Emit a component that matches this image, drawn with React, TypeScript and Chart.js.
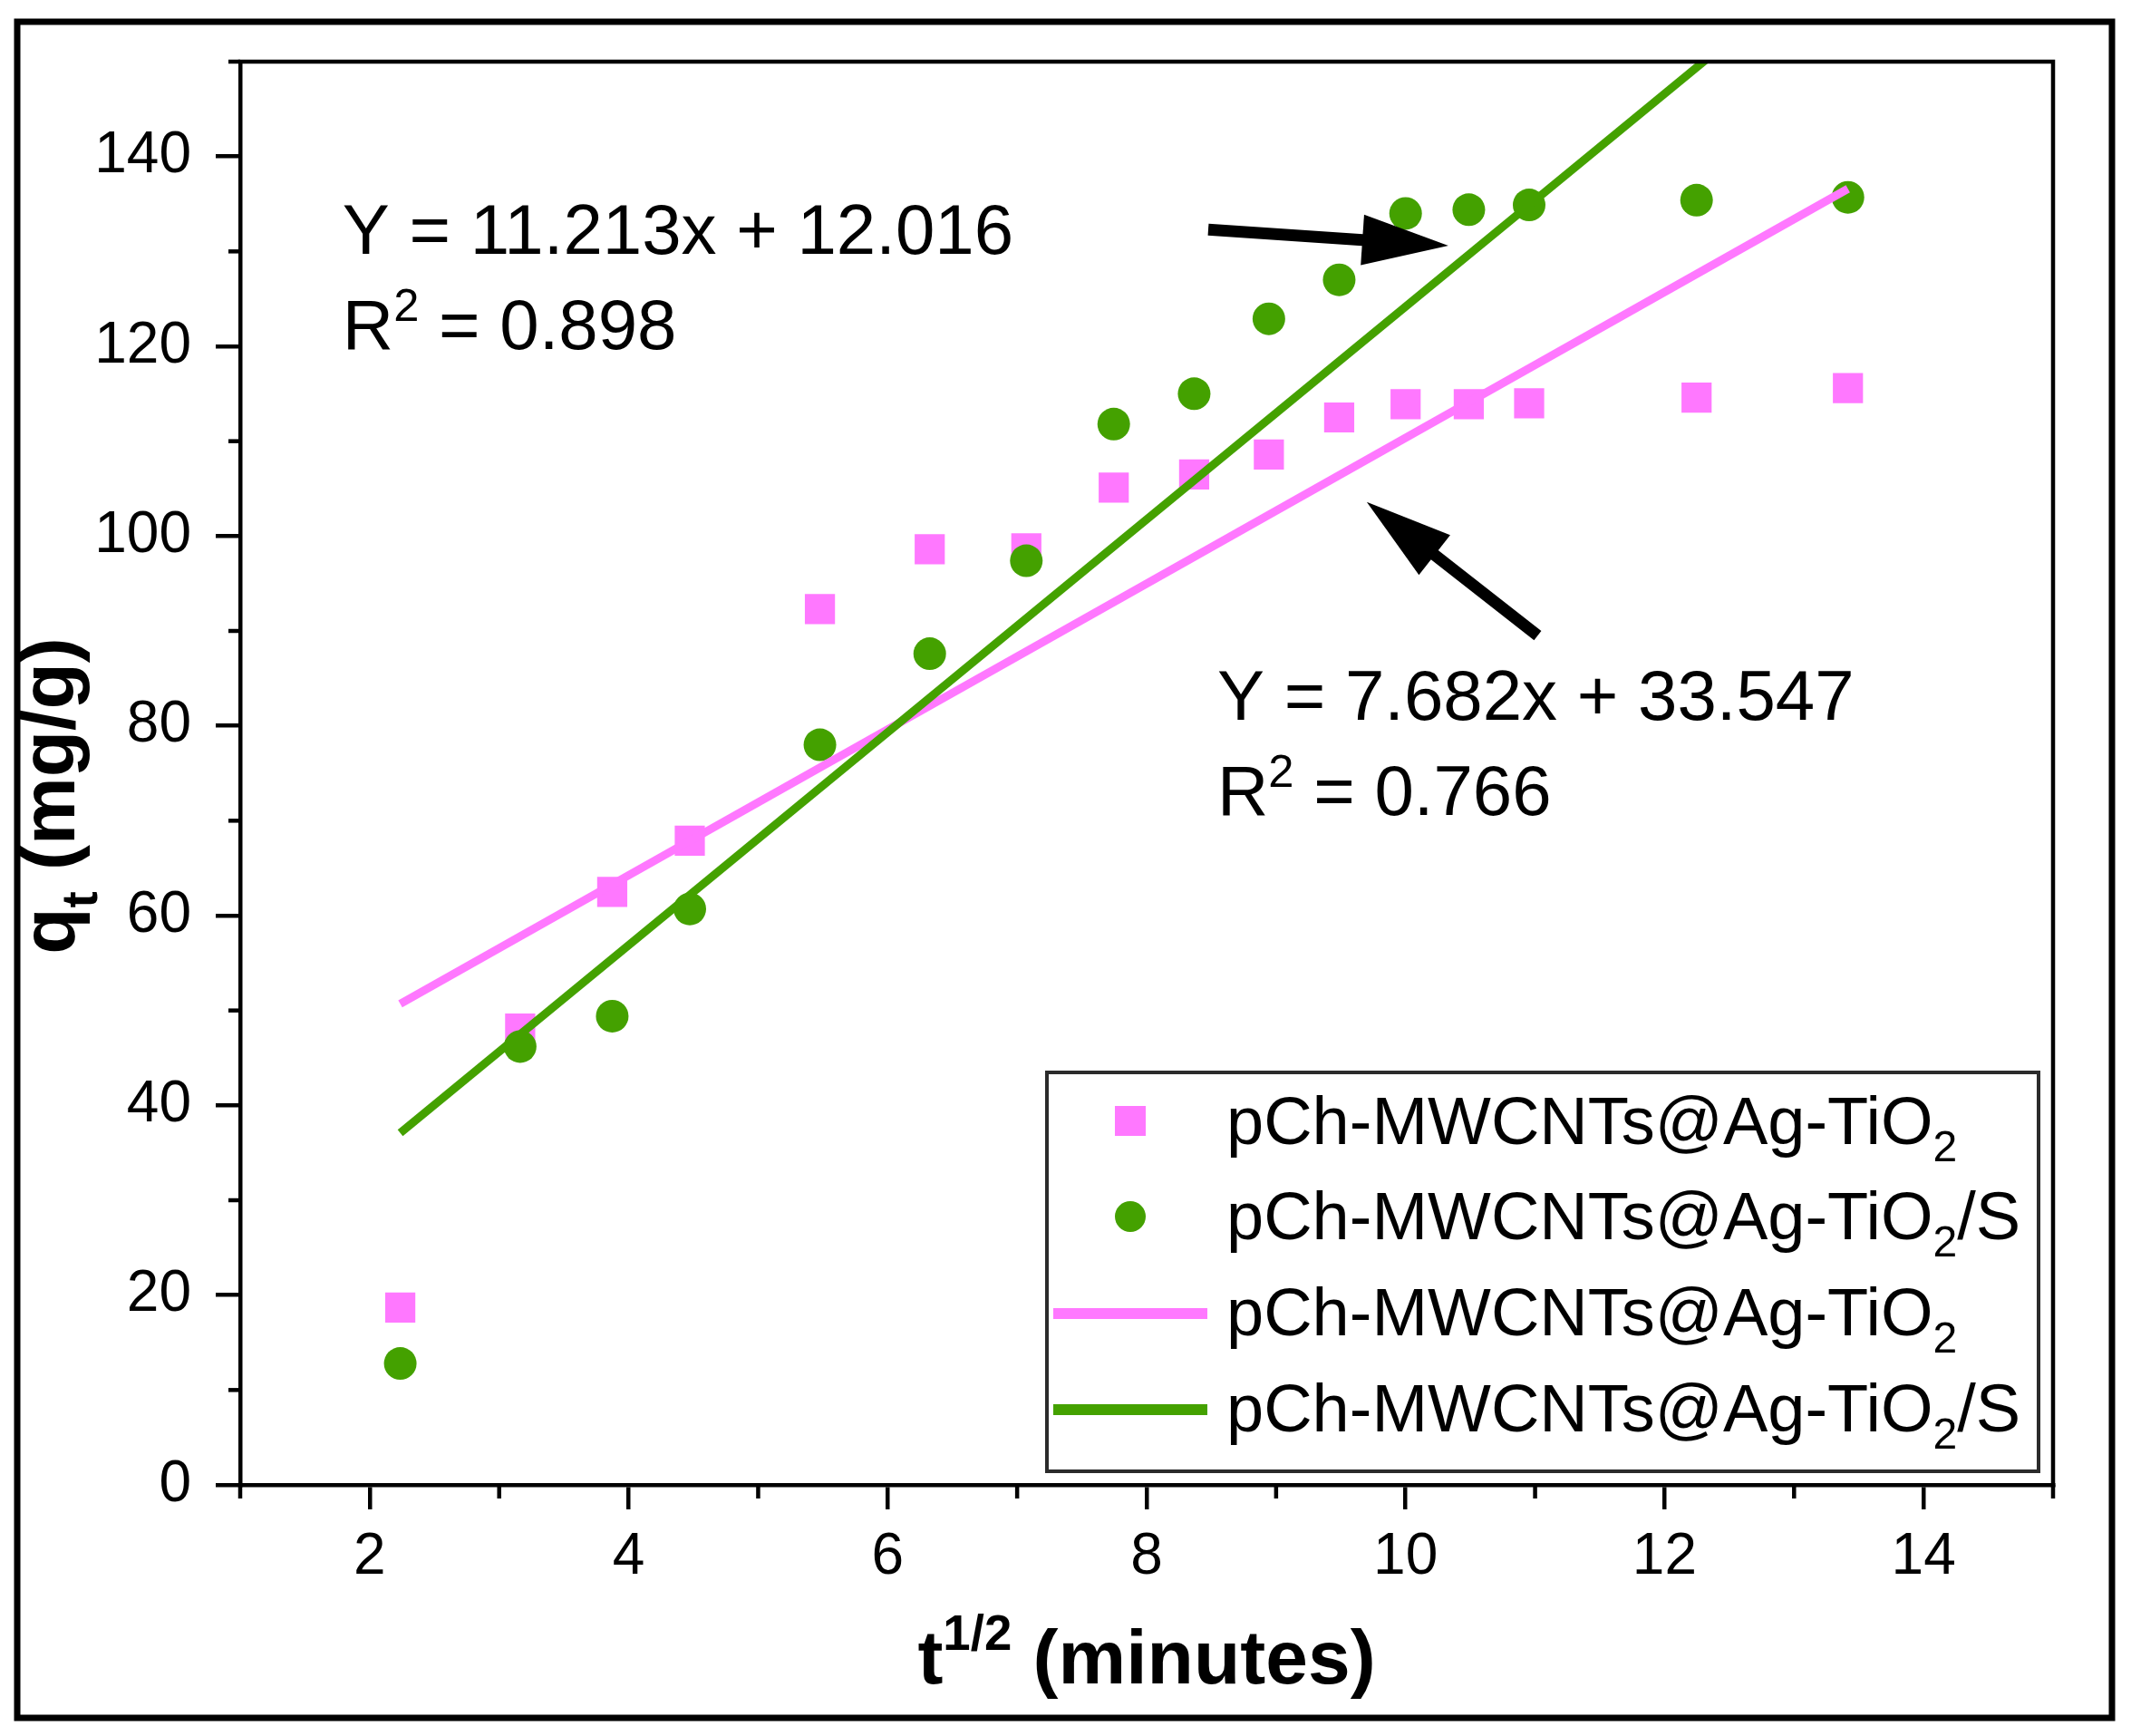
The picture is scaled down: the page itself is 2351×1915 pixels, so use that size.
import { useEffect, useRef } from "react";
import { Chart, registerables } from "chart.js";

Chart.register(...registerables);

// t^(1/2) positions of the measurements
const sqrtTime = [2.236, 3.162, 3.873, 4.472, 5.477, 6.325, 7.071, 7.746, 8.367, 8.944, 9.487, 10.0, 10.488, 10.954, 12.247, 13.416];
// q_t values (mg/g)
const qtAgTiO2 = [18.7, 48.1, 62.5, 67.9, 92.3, 98.6, 98.7, 105.1, 106.5, 108.6, 112.5, 113.9, 113.9, 114.0, 114.6, 115.6];
const qtAgTiO2S = [12.8, 46.2, 49.4, 60.7, 78.0, 87.6, 97.4, 111.8, 115.0, 122.9, 127.0, 134.0, 134.4, 134.9, 135.4, 135.7];

// fitted lines, end points
const fitX = [2.236, 13.416];
const fitAgTiO2 = [50.7, 136.6];
const fitAgTiO2S = [37.1, 162.5];

const xTicks = [2, 4, 6, 8, 10, 12, 14];
const yTicks = [0, 20, 40, 60, 80, 100, 120, 140];
const xMinorTicks = [1, 3, 5, 7, 9, 11, 13, 15];
const yMinorTicks = [10, 30, 50, 70, 90, 110, 130, 150];

const seriesLabels = ["pCh-MWCNTs@Ag-TiO_{2}", "pCh-MWCNTs@Ag-TiO_{2}/S"];
const xTitle = "t^{1/2} (minutes)";
const yTitle = "q_{t} (mg/g)";

// equation labels, anchored in data units (left edge, first baseline)
const equationLines = [
  ["Y = 11.213x + 12.016", "R^{2} = 0.898"],
  ["Y = 7.682x + 33.547", "R^{2} = 0.766"],
];
const equationAnchors = [
  [1.79, 129.7],
  [8.546, 80.6],
];
// arrows, from -> to in data units
const arrowFrom = [
  [8.476, 132.3],
  [11.02, 89.5],
];
const arrowTo = [
  [10.33, 130.6],
  [9.7, 103.6],
];

const W = 2351;
const H = 1915;
const FONT = '"Liberation Sans", Arial, Helvetica, sans-serif';
const PINK = "#ff78ff";
const GREEN = "#44a100";
const AXIS_W = 4.5;

type Seg = { text: string; shift: number };

const parseRich = (s: string): Seg[] => {
  const out: Seg[] = [];
  const re = /([_^])\{([^}]*)\}/g;
  let last = 0;
  let m: RegExpExecArray | null;
  while ((m = re.exec(s))) {
    if (m.index > last) out.push({ text: s.slice(last, m.index), shift: 0 });
    out.push({ text: m[2], shift: m[1] === "^" ? 1 : -1 });
    last = re.lastIndex;
  }
  if (last < s.length) out.push({ text: s.slice(last), shift: 0 });
  return out;
};

const drawRich = (
  ctx: CanvasRenderingContext2D,
  s: string,
  x: number,
  y: number,
  size: number,
  weight: string,
  align: "left" | "center",
  subDrop = 0.26,
  supRise = 0.42
) => {
  const segs = parseRich(s);
  const fontFor = (seg: Seg) => `${weight} ${seg.shift ? size * 0.65 : size}px ${FONT}`;
  let total = 0;
  segs.forEach((seg) => {
    ctx.font = fontFor(seg);
    total += ctx.measureText(seg.text).width;
  });
  let cx = align === "center" ? x - total / 2 : x;
  ctx.textAlign = "left";
  ctx.textBaseline = "alphabetic";
  segs.forEach((seg) => {
    ctx.font = fontFor(seg);
    const dy = seg.shift === 1 ? -size * supRise : seg.shift === -1 ? size * subDrop : 0;
    ctx.fillText(seg.text, cx, y + dy);
    cx += ctx.measureText(seg.text).width;
  });
};

const drawArrow = (ctx: CanvasRenderingContext2D, x1: number, y1: number, x2: number, y2: number) => {
  const ang = Math.atan2(y2 - y1, x2 - x1);
  const c = Math.cos(ang);
  const s = Math.sin(ang);
  const headLen = 95;
  const halfW = 28;
  const hx = x2 - c * headLen;
  const hy = y2 - s * headLen;
  ctx.lineWidth = 13;
  ctx.lineCap = "butt";
  ctx.beginPath();
  ctx.moveTo(x1, y1);
  ctx.lineTo(hx + c * 4, hy + s * 4);
  ctx.stroke();
  ctx.beginPath();
  ctx.moveTo(x2, y2);
  ctx.lineTo(hx + s * halfW, hy - c * halfW);
  ctx.lineTo(hx - s * halfW, hy + c * halfW);
  ctx.closePath();
  ctx.fill();
};

const decorPlugin = {
  id: "decor",
  beforeDraw(chart: any) {
    const { ctx } = chart;
    ctx.save();
    ctx.fillStyle = "#fff";
    ctx.fillRect(0, 0, chart.width, chart.height);
    ctx.restore();
  },
  afterDraw(chart: any) {
    const { ctx, chartArea: a, scales } = chart;
    const xs = scales.x;
    const ys = scales.y;
    ctx.save();
    ctx.strokeStyle = "#000";
    ctx.fillStyle = "#000";

    // top and right frame of the plot
    ctx.lineWidth = AXIS_W;
    ctx.lineCap = "square";
    ctx.beginPath();
    ctx.moveTo(a.left, a.top);
    ctx.lineTo(a.right, a.top);
    ctx.lineTo(a.right, a.bottom);
    ctx.stroke();

    // minor ticks
    ctx.lineCap = "butt";
    xMinorTicks.forEach((v) => {
      const px = xs.getPixelForValue(v);
      ctx.beginPath();
      ctx.moveTo(px, a.bottom);
      ctx.lineTo(px, a.bottom + 15);
      ctx.stroke();
    });
    yMinorTicks.forEach((v) => {
      const py = ys.getPixelForValue(v);
      ctx.beginPath();
      ctx.moveTo(a.left - 13, py);
      ctx.lineTo(a.left, py);
      ctx.stroke();
    });

    // equations
    equationLines.forEach((lines, i) => {
      const px = xs.getPixelForValue(equationAnchors[i][0]);
      const py = ys.getPixelForValue(equationAnchors[i][1]);
      lines.forEach((t, j) => drawRich(ctx, t, px, py + j * 105, 78, "normal", "left", 0.26, 0.4));
    });

    // arrows
    arrowFrom.forEach((f, i) => {
      drawArrow(
        ctx,
        xs.getPixelForValue(f[0]),
        ys.getPixelForValue(f[1]),
        xs.getPixelForValue(arrowTo[i][0]),
        ys.getPixelForValue(arrowTo[i][1])
      );
    });

    // legend
    const L = { left: a.right - 1110, top: a.bottom - 455, right: a.right - 16, bottom: a.bottom - 15 };
    ctx.fillStyle = "#fff";
    ctx.fillRect(L.left, L.top, L.right - L.left, L.bottom - L.top);
    ctx.strokeStyle = "#2b2b2b";
    ctx.lineWidth = 4;
    ctx.strokeRect(L.left, L.top, L.right - L.left, L.bottom - L.top);
    const rowBase = [79, 184, 290, 396];
    chart.data.datasets.forEach((ds: any, i: number) => {
      const base = L.top + rowBase[i];
      const cy = base - 26;
      const cx = L.left + 92;
      if (ds.showLine) {
        ctx.strokeStyle = ds.borderColor;
        ctx.lineWidth = 12;
        ctx.beginPath();
        ctx.moveTo(L.left + 7, base - 24);
        ctx.lineTo(L.left + 177, base - 24);
        ctx.stroke();
      } else if (ds.pointStyle === "rect") {
        ctx.fillStyle = ds.pointBackgroundColor;
        ctx.fillRect(cx - 17, cy - 16, 34, 33);
      } else {
        ctx.fillStyle = ds.pointBackgroundColor;
        ctx.beginPath();
        ctx.arc(cx, cy + 1, 17, 0, Math.PI * 2);
        ctx.fill();
      }
      ctx.fillStyle = "#000";
      drawRich(ctx, ds.label, L.left + 198, base, 74, "normal", "left", 0.25);
    });

    // axis titles
    ctx.fillStyle = "#000";
    drawRich(ctx, xTitle, (a.left + a.right) / 2, a.bottom + 219, 84, "bold", "center", 0.3, 0.44);
    ctx.save();
    ctx.translate(a.left - 183, a.top + 810);
    ctx.rotate(-Math.PI / 2);
    drawRich(ctx, yTitle, 0, 0, 84, "bold", "center", 0.3, 0.44);
    ctx.restore();

    // outer frame
    ctx.strokeStyle = "#000";
    ctx.lineWidth = 7;
    ctx.strokeRect(19, 24, 2311, 1871);
    ctx.restore();
  },
};

export default function App() {
  const canvasRef = useRef<HTMLCanvasElement>(null);

  useEffect(() => {
    const canvas = canvasRef.current;
    if (!canvas) return;

    const chart = new Chart(canvas, {
      type: "scatter",
      data: {
        datasets: [
          {
            label: seriesLabels[0],
            data: sqrtTime.map((x, i) => ({ x, y: qtAgTiO2[i] })),
            pointStyle: "rect",
            pointRadius: 23.5,
            pointBackgroundColor: PINK,
            pointBorderColor: PINK,
            pointBorderWidth: 0,
            borderWidth: 0,
            showLine: false,
            order: 4,
          },
          {
            label: seriesLabels[1],
            data: sqrtTime.map((x, i) => ({ x, y: qtAgTiO2S[i] })),
            pointStyle: "circle",
            pointRadius: 18,
            pointBackgroundColor: GREEN,
            pointBorderColor: GREEN,
            pointBorderWidth: 0,
            borderWidth: 0,
            showLine: false,
            order: 3,
          },
          {
            label: seriesLabels[0],
            data: fitX.map((x, i) => ({ x, y: fitAgTiO2[i] })),
            showLine: true,
            borderColor: PINK,
            borderWidth: 9,
            pointRadius: 0,
            clip: 0,
            order: 2,
          },
          {
            label: seriesLabels[1],
            data: fitX.map((x, i) => ({ x, y: fitAgTiO2S[i] })),
            showLine: true,
            borderColor: GREEN,
            borderWidth: 9,
            pointRadius: 0,
            clip: 0,
            order: 1,
          },
        ] as any,
      },
      options: {
        responsive: false,
        animation: false,
        events: [],
        layout: { padding: { left: 0, top: 68, right: 86, bottom: 0 } },
        plugins: {
          legend: { display: false },
          tooltip: { enabled: false },
        },
        scales: {
          x: {
            type: "linear",
            min: 1,
            max: 15,
            afterBuildTicks: (scale: any) => {
              scale.ticks = xTicks.map((value) => ({ value }));
            },
            afterFit: (scale: any) => {
              scale.height = 277;
            },
            grid: {
              drawOnChartArea: false,
              color: "#000",
              lineWidth: AXIS_W,
              tickLength: 27,
            },
            border: { color: "#000", width: AXIS_W },
            ticks: {
              color: "#000",
              padding: 15,
              maxRotation: 0,
              font: { family: FONT, size: 64 },
            },
          },
          y: {
            type: "linear",
            min: 0,
            max: 150,
            afterBuildTicks: (scale: any) => {
              scale.ticks = yTicks.map((value) => ({ value }));
            },
            afterFit: (scale: any) => {
              scale.width = 265;
            },
            grid: {
              drawOnChartArea: false,
              color: "#000",
              lineWidth: AXIS_W,
              tickLength: 27,
            },
            border: { color: "#000", width: AXIS_W },
            ticks: {
              color: "#000",
              padding: 27,
              font: { family: FONT, size: 64 },
            },
          },
        },
      },
      plugins: [decorPlugin],
    });

    return () => {
      chart.destroy();
    };
  }, []);

  return (
    <div style={{ position: "absolute", left: 0, top: 0, width: W, height: H, background: "#fff" }}>
      <canvas ref={canvasRef} width={W} height={H} style={{ display: "block", width: W, height: H }} />
    </div>
  );
}
